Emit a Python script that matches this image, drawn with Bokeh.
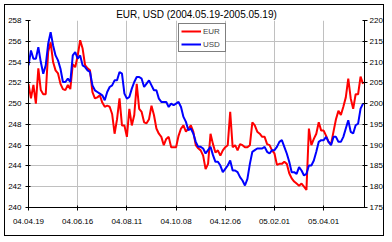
from bokeh.plotting import figure
from bokeh.models import Range1d, LinearAxis, FixedTicker, Legend, LegendItem
from bokeh.embed import file_html
from bokeh.resources import INLINE

title_text = "EUR, USD (2004.05.19-2005.05.19)"
date_labels = ["04.04.19", "04.06.16", "04.08.11", "04.10.08", "04.12.06", "05.02.01", "05.04.01"]
label_positions = [0, 20, 40, 60, 80, 100, 120]
eur_ticks = list(range(240, 259, 2))
usd_ticks = list(range(175, 221, 5))

eur = [251.9, 250.5, 251.8, 250.0, 253.4, 251.3, 250.9, 250.9, 255.0, 255.9, 254.0, 253.2,
       252.9, 251.9, 251.4, 251.3, 251.8, 251.4, 253.8, 253.5, 254.6, 256.1, 255.3, 253.7,
       253.4, 253.2, 251.1, 250.5, 250.6, 250.8, 250.1, 249.7, 249.8, 249.7, 249.0, 247.1,
       248.5, 250.5, 247.9, 247.9, 246.8, 249.5, 247.9, 248.9, 251.9, 249.5, 249.2, 248.2,
       248.1, 248.5, 249.8, 248.9, 247.6, 247.1, 246.8, 246.0, 246.6, 246.8, 245.8, 245.8,
       245.8, 246.9, 247.6, 247.9, 247.3, 247.6, 247.9, 247.3, 246.0, 245.7, 245.5,
       245.0, 243.7, 244.2, 247.1, 246.1, 245.3, 245.5, 245.0, 245.5, 245.8, 246.0, 249.2,
       245.8, 246.0, 245.5, 246.1, 246.0, 245.8, 245.8, 246.0, 248.2, 247.9, 247.3, 247.1,
       246.8, 246.8, 246.1, 246.0, 245.5, 245.2, 244.1, 244.2, 244.2, 244.4,
       244.2, 243.3, 242.8, 242.5, 242.3, 242.1, 242.3, 242.0, 241.7, 247.6, 246.0, 246.6,
       247.1, 248.2, 247.4, 247.4, 246.9, 246.3, 246.1, 247.3, 248.5, 249.3, 248.9, 249.7,
       250.6, 252.4, 250.5, 249.5, 250.9, 250.9, 252.6, 251.9]

usd = [209.2, 212.8, 210.8, 210.8, 213.6, 210.0, 207.2, 209.2, 214.4, 217.2, 214.0, 211.6,
       210.4, 208.4, 205.2, 205.2, 206.0, 205.2, 211.6, 212.4, 210.8, 211.6, 209.2, 208.8,
       208.0, 207.6, 204.4, 203.2, 202.8, 202.4, 202.0, 200.8, 202.8, 204.0, 204.4, 205.6,
       205.6, 207.6, 207.2, 202.4, 201.2, 201.6, 203.6, 205.2, 206.4, 206.4, 206.0, 204.0,
       204.8, 205.6, 204.4, 203.2, 203.2, 201.2, 200.4, 200.4, 200.4, 199.2, 200.0, 199.6,
       200.0, 200.4, 199.2, 196.8, 195.6, 193.6, 194.0, 192.8, 190.8, 189.6, 189.6,
       189.2, 188.0, 188.8, 189.6, 187.6, 186.0, 186.0, 185.1, 183.5, 184.3, 185.1, 186.3,
       183.9, 183.9, 183.5, 182.3, 181.5, 180.3, 181.9, 185.5, 188.4, 188.8, 189.2, 189.2,
       189.2, 189.6, 188.4, 188.0, 188.8, 188.8, 189.6, 190.8, 191.2, 189.6,
       188.0, 186.0, 183.5, 183.5, 183.1, 184.7, 183.9, 182.7, 183.1, 185.1, 185.1, 186.3,
       188.4, 190.8, 191.2, 191.2, 192.0, 190.8, 190.0, 192.0, 192.0, 190.8, 190.8, 192.0,
       194.0, 196.0, 193.2, 192.8, 194.8, 195.2, 198.8, 200.0]

x = list(range(len(eur)))
FONT = "Liberation Sans"

p = figure(width=380, height=232, output_backend="svg", toolbar_location=None,
           x_range=Range1d(0, 136.6), y_range=Range1d(240, 258),
           min_border_left=21, min_border_right=21, min_border_top=15, min_border_bottom=30,
           title=title_text)
p.margin = (4, 4, 4, 4)
p.styles = {"border": "1px solid black"}
p.background_fill_color = "white"
p.border_fill_color = "white"
p.outline_line_color = None

p.title.align = "center"
p.title.text_font = FONT
p.title.text_font_size = "10px"
p.title.text_font_style = "normal"
p.title.text_color = "black"
p.title.standoff = 1
p.title.offset = 0

p.extra_y_ranges = {"usd": Range1d(175, 220)}

xa = p.xaxis[0]
xa.ticker = FixedTicker(ticks=label_positions)
xa.major_label_overrides = {pos: lab for pos, lab in zip(label_positions, date_labels)}
ya = p.yaxis[0]
ya.ticker = FixedTicker(ticks=eur_ticks)
ra = LinearAxis(y_range_name="usd", ticker=FixedTicker(ticks=usd_ticks))
p.add_layout(ra, "right")

for ax in (xa, ya, ra):
    ax.axis_line_color = "black"
    ax.major_tick_line_color = "black"
    ax.minor_tick_line_color = None
    ax.major_tick_in = 2
    ax.major_tick_out = 3
    ax.major_label_text_font = FONT
    ax.major_label_text_font_size = "8px"
    ax.major_label_text_color = "black"
xa.major_label_standoff = 8
ya.major_label_standoff = 4
ra.major_label_standoff = 2

p.xgrid.ticker = FixedTicker(ticks=label_positions)
p.ygrid.ticker = FixedTicker(ticks=eur_ticks)
p.xgrid.grid_line_color = "#C0C0C0"
p.ygrid.grid_line_color = "#C0C0C0"

r_eur = p.line(x, eur, line_color="#FF0000", line_width=2)
r_usd = p.line(x, usd, line_color="#0000FF", line_width=2, y_range_name="usd")

legend = Legend(items=[LegendItem(label="EUR", renderers=[r_eur]),
                       LegendItem(label="USD", renderers=[r_usd])],
                location=(150, 155))
legend.border_line_color = "black"
legend.border_line_width = 1
legend.background_fill_color = "white"
legend.background_fill_alpha = 1
legend.label_text_font = FONT
legend.label_text_font_size = "8px"
legend.glyph_width = 20
legend.glyph_height = 10
legend.label_height = 10
legend.label_standoff = 2
legend.padding = 2
legend.spacing = 3
legend.margin = 0
p.add_layout(legend)

open("out.html", "w").write(file_html(p, INLINE))
